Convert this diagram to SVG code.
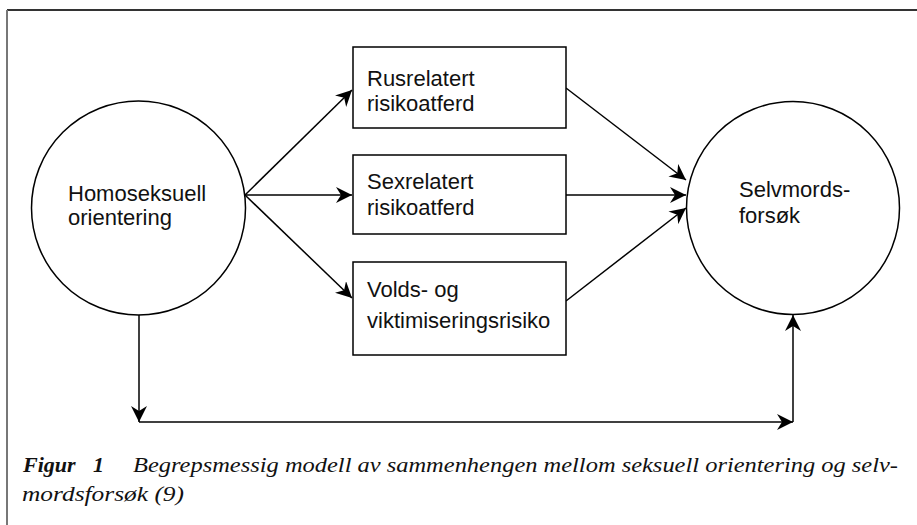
<svg xmlns="http://www.w3.org/2000/svg" width="917" height="525" viewBox="0 0 917 525">
<defs>
<style>
.node{fill:#fff;stroke:#000;stroke-width:1.5}
.lbl{font-family:"Liberation Sans",Arial,sans-serif;font-size:22px;fill:#111}
.edge{fill:none;stroke:#000;stroke-width:1.5}
.cap{font-family:"Liberation Serif","Times New Roman",serif;font-size:22px;font-style:italic;fill:#111}
</style>
<marker id="arr" viewBox="0 0 17 16" markerWidth="17" markerHeight="16" refX="16" refY="8" orient="auto" markerUnits="userSpaceOnUse">
<path d="M0,0 L16,8 L0,16 L5,8 Z" fill="#000"/>
</marker>
</defs>
<rect width="917" height="525" fill="#fff"/>
<g id="frame">
<line x1="7" y1="10" x2="917" y2="10" stroke="#333" stroke-width="2"/>
<line x1="7" y1="10" x2="7" y2="525" stroke="#777" stroke-width="2"/>
</g>
<g id="connectors">
<line class="edge" x1="245" y1="195" x2="352" y2="90" marker-end="url(#arr)"/>
<line class="edge" x1="245" y1="195" x2="352" y2="195" marker-end="url(#arr)"/>
<line class="edge" x1="245" y1="195" x2="352" y2="298" marker-end="url(#arr)"/>
<line class="edge" x1="566" y1="88" x2="686" y2="180" marker-end="url(#arr)"/>
<line class="edge" x1="566" y1="195" x2="686" y2="195" marker-end="url(#arr)"/>
<line class="edge" x1="566" y1="301" x2="686" y2="208" marker-end="url(#arr)"/>
<line class="edge" x1="139" y1="315" x2="139" y2="422" marker-end="url(#arr)"/>
<line class="edge" x1="139" y1="422" x2="793" y2="422" marker-end="url(#arr)"/>
<line class="edge" x1="793" y1="422" x2="793" y2="315" marker-end="url(#arr)"/>
</g>
<g id="homoseksuell">
<circle class="node" cx="138.5" cy="208" r="107"/>
<text class="lbl" x="68" y="201">Homoseksuell</text>
<text class="lbl" x="68" y="225">orientering</text>
</g>
<g id="rusrelatert">
<rect class="node" x="353" y="47" width="213" height="81"/>
<text class="lbl" x="367" y="86">Rusrelatert</text>
<text class="lbl" x="367" y="111">risikoatferd</text>
</g>
<g id="sexrelatert">
<rect class="node" x="353" y="155" width="213" height="79"/>
<text class="lbl" x="367" y="189">Sexrelatert</text>
<text class="lbl" x="367" y="215">risikoatferd</text>
</g>
<g id="volds">
<rect class="node" x="353" y="262" width="213" height="93"/>
<text class="lbl" x="367" y="297">Volds- og</text>
<text class="lbl" x="367" y="328">viktimiseringsrisiko</text>
</g>
<g id="selvmord">
<circle class="node" cx="793" cy="208" r="106.5"/>
<text class="lbl" x="739" y="197">Selvmords-</text>
<text class="lbl" x="739" y="223">forsøk</text>
</g>
<g id="caption">
<text class="cap" x="23" y="472" font-weight="bold">Figur<tspan x="93">1</tspan></text>
<text class="cap" x="133" y="472" textLength="765" lengthAdjust="spacingAndGlyphs">Begrepsmessig modell av sammenhengen mellom seksuell orientering og selv-</text>
<text class="cap" x="22" y="501" textLength="162" lengthAdjust="spacingAndGlyphs">mordsforsøk (9)</text>
</g>
</svg>
